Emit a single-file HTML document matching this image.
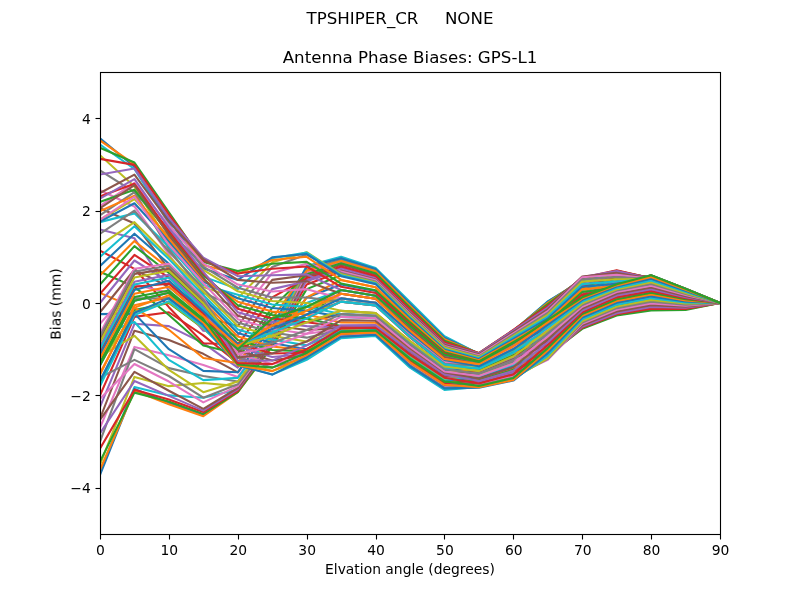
<!DOCTYPE html>
<html><head><meta charset="utf-8"><title>Antenna Phase Biases</title>
<style>html,body{margin:0;padding:0;background:#fff}svg{display:block}svg text{will-change:opacity}text{font-family:"DejaVu Sans","Liberation Sans",sans-serif;fill:#000}</style></head>
<body>
<svg width="800" height="600" viewBox="0 0 800 600">
<rect width="800" height="600" fill="#fff"/>
<defs><clipPath id="ax"><rect x="100" y="72" width="620" height="462"/></clipPath></defs>
<g clip-path="url(#ax)" fill="none" stroke-width="2.083" stroke-linejoin="round" stroke-linecap="square">
<polyline stroke="#1f77b4" points="100.00,365.37 134.44,300.69 168.89,292.84 203.33,320.56 237.78,349.20 272.22,318.50 306.67,306.85 341.11,290.06 375.56,295.70 410.00,325.88 444.44,354.76 478.89,362.03 513.33,343.13 547.78,319.93 582.22,297.27 616.67,284.23 651.11,275.28 685.56,288.68 720.00,303.00"/>
<polyline stroke="#ff7f0e" points="100.00,374.61 134.44,305.31 168.89,297.46 203.33,324.25 237.78,353.82 272.22,322.00 306.67,306.85 341.11,293.76 375.56,298.79 410.00,329.93 444.44,358.40 478.89,361.56 513.33,342.45 547.78,318.93 582.22,296.48 616.67,283.61 651.11,275.39 685.56,288.74 720.00,303.00"/>
<polyline stroke="#2ca02c" points="100.00,383.85 134.44,309.93 168.89,303.00 203.33,328.41 237.78,358.44 272.22,312.24 306.67,310.70 341.11,298.38 375.56,302.66 410.00,333.03 444.44,360.74 478.89,361.09 513.33,341.76 547.78,317.93 582.22,295.69 616.67,282.99 651.11,275.49 685.56,288.81 720.00,303.00"/>
<polyline stroke="#d62728" points="100.00,395.40 134.44,316.86 168.89,312.24 203.33,335.34 237.78,363.06 272.22,318.50 306.67,318.40 341.11,301.61 375.56,305.36 410.00,337.55 444.44,365.03 478.89,360.62 513.33,341.08 547.78,316.94 582.22,294.90 616.67,282.37 651.11,275.60 685.56,288.87 720.00,303.00"/>
<polyline stroke="#9467bd" points="100.00,406.95 134.44,323.79 168.89,326.10 203.33,343.19 237.78,367.68 272.22,321.48 306.67,322.25 341.11,310.85 375.56,313.09 410.00,341.36 444.44,367.00 478.89,360.15 513.33,340.39 547.78,315.94 582.22,294.11 616.67,281.74 651.11,275.70 685.56,288.93 720.00,303.00"/>
<polyline stroke="#8c564b" points="100.00,418.50 134.44,330.72 168.89,339.96 203.33,353.82 237.78,372.30 272.22,325.51 306.67,322.25 341.11,314.09 375.56,315.79 410.00,344.67 444.44,369.93 478.89,359.68 513.33,339.71 547.78,314.94 582.22,293.32 616.67,281.12 651.11,275.81 685.56,289.00 720.00,303.00"/>
<polyline stroke="#e377c2" points="100.00,427.74 134.44,346.89 168.89,355.21 203.33,364.91 237.78,376.92 272.22,330.72 306.67,318.40 341.11,293.76 375.56,298.79 410.00,329.32 444.44,357.72 478.89,359.22 513.33,339.03 547.78,313.94 582.22,292.53 616.67,280.50 651.11,275.91 685.56,289.06 720.00,303.00"/>
<polyline stroke="#7f7f7f" points="100.00,441.60 134.44,349.20 168.89,368.14 203.33,376.00 237.78,381.54 272.22,336.03 306.67,314.55 341.11,301.61 375.56,305.36 410.00,335.75 444.44,362.99 478.89,358.75 513.33,338.34 547.78,312.95 582.22,291.74 616.67,279.88 651.11,276.02 685.56,289.12 720.00,303.00"/>
<polyline stroke="#bcbd22" points="100.00,464.70 134.44,376.92 168.89,386.16 203.33,382.93 237.78,386.16 272.22,339.96 306.67,306.85 341.11,298.38 375.56,302.66 410.00,333.63 444.44,361.42 478.89,358.28 513.33,337.66 547.78,311.95 582.22,290.95 616.67,279.25 651.11,276.12 685.56,289.19 720.00,303.00"/>
<polyline stroke="#17becf" points="100.00,471.63 134.44,387.08 168.89,395.40 203.33,397.71 237.78,389.39 272.22,343.05 306.67,303.00 341.11,290.06 375.56,295.70 410.00,326.48 444.44,355.44 478.89,357.81 513.33,336.98 547.78,310.95 582.22,289.97 616.67,278.61 651.11,276.23 685.56,289.25 720.00,303.00"/>
<polyline stroke="#1f77b4" points="100.00,474.86 134.44,388.93 168.89,402.79 203.33,415.27 237.78,391.24 272.22,345.04 306.67,297.46 341.11,284.52 375.56,291.07 410.00,323.11 444.44,353.04 478.89,357.34 513.33,336.29 547.78,309.95 582.22,288.99 616.67,277.96 651.11,276.33 685.56,289.32 720.00,303.00"/>
<polyline stroke="#ff7f0e" points="100.00,469.78 134.44,390.78 168.89,404.18 203.33,416.19 237.78,392.17 272.22,346.55 306.67,297.46 341.11,279.90 375.56,287.20 410.00,320.61 444.44,351.37 478.89,356.88 513.33,335.61 547.78,308.86 582.22,288.02 616.67,277.31 651.11,276.47 685.56,289.40 720.00,303.00"/>
<polyline stroke="#2ca02c" points="100.00,461.47 134.44,392.63 168.89,401.41 203.33,413.88 237.78,392.17 272.22,345.97 306.67,289.14 341.11,275.28 375.56,283.34 410.00,316.90 444.44,348.35 478.89,356.41 513.33,334.92 547.78,307.77 582.22,287.04 616.67,276.67 651.11,276.61 685.56,289.49 720.00,303.00"/>
<polyline stroke="#d62728" points="100.00,448.53 134.44,389.86 168.89,399.56 203.33,412.03 237.78,390.78 272.22,343.05 306.67,284.52 341.11,271.58 375.56,280.25 410.00,313.46 444.44,345.39 478.89,356.06 513.33,334.41 547.78,306.68 582.22,286.06 616.67,276.02 651.11,276.75 685.56,289.57 720.00,303.00"/>
<polyline stroke="#9467bd" points="100.00,433.28 134.44,381.08 168.89,395.86 203.33,410.65 237.78,389.39 272.22,343.19 306.67,279.90 341.11,267.89 375.56,277.16 410.00,310.61 444.44,343.11 478.89,355.70 513.33,333.90 547.78,305.59 582.22,285.08 616.67,275.37 651.11,276.90 685.56,289.66 720.00,303.00"/>
<polyline stroke="#8c564b" points="100.00,419.89 134.44,371.84 168.89,390.78 203.33,408.80 237.78,388.01 272.22,343.05 306.67,276.20 341.11,264.65 375.56,274.46 410.00,308.50 444.44,341.54 478.89,355.35 513.33,333.39 547.78,304.50 582.22,284.10 616.67,274.73 651.11,277.04 685.56,289.74 720.00,303.00"/>
<polyline stroke="#e377c2" points="100.00,398.73 134.44,363.98 168.89,381.54 203.33,402.33 237.78,386.16 272.22,339.96 306.67,272.51 341.11,261.88 375.56,272.14 410.00,306.51 444.44,340.00 478.89,355.00 513.33,332.87 547.78,303.42 582.22,283.28 616.67,274.12 651.11,277.18 685.56,289.83 720.00,303.00"/>
<polyline stroke="#7f7f7f" points="100.00,377.57 134.44,359.83 168.89,376.00 203.33,397.71 237.78,384.31 272.22,339.54 306.67,269.74 341.11,259.57 375.56,270.21 410.00,304.66 444.44,338.48 478.89,354.65 513.33,332.36 547.78,302.33 582.22,282.45 616.67,273.52 651.11,277.32 685.56,289.91 720.00,303.00"/>
<polyline stroke="#bcbd22" points="100.00,356.41 134.44,335.80 168.89,369.99 203.33,392.17 237.78,381.54 272.22,335.34 306.67,267.43 341.11,257.72 375.56,268.66 410.00,302.94 444.44,337.00 478.89,354.30 513.33,331.85 547.78,301.86 582.22,281.62 616.67,272.91 651.11,277.46 685.56,290.00 720.00,303.00"/>
<polyline stroke="#17becf" points="100.00,335.25 134.44,321.94 168.89,359.83 203.33,380.15 237.78,377.84 272.22,332.53 306.67,266.04 341.11,256.80 375.56,267.89 410.00,302.08 444.44,336.26 478.89,353.95 513.33,331.33 547.78,301.39 582.22,280.79 616.67,272.31 651.11,277.60 685.56,290.08 720.00,303.00"/>
<polyline stroke="#1f77b4" points="100.00,314.09 134.44,313.63 168.89,349.20 203.33,370.91 237.78,372.30 272.22,326.10 306.67,266.96 341.11,258.19 375.56,269.05 410.00,303.67 444.44,337.71 478.89,353.60 513.33,330.82 547.78,301.74 582.22,279.97 616.67,271.71 651.11,277.74 685.56,290.17 720.00,303.00"/>
<polyline stroke="#ff7f0e" points="100.00,292.93 134.44,307.62 168.89,329.80 203.33,357.98 237.78,363.06 272.22,318.50 306.67,270.66 341.11,260.96 375.56,271.36 410.00,305.65 444.44,339.26 478.89,353.40 513.33,330.53 547.78,302.91 582.22,279.14 616.67,271.10 651.11,277.91 685.56,290.27 720.00,303.00"/>
<polyline stroke="#2ca02c" points="100.00,271.77 134.44,286.83 168.89,315.01 203.33,345.50 237.78,353.82 272.22,307.98 306.67,274.36 341.11,263.27 375.56,273.30 410.00,307.51 444.44,340.77 478.89,353.20 513.33,330.24 547.78,304.09 582.22,278.31 616.67,270.74 651.11,278.09 685.56,290.38 720.00,303.00"/>
<polyline stroke="#d62728" points="100.00,250.61 134.44,268.81 168.89,307.16 203.33,343.19 237.78,344.58 272.22,297.46 306.67,278.05 341.11,266.50 375.56,276.00 410.00,309.62 444.44,342.34 478.89,353.00 513.33,329.94 547.78,305.85 582.22,277.71 616.67,270.38 651.11,278.26 685.56,290.48 720.00,303.00"/>
<polyline stroke="#9467bd" points="100.00,229.45 134.44,238.32 168.89,290.53 203.33,330.72 237.78,335.34 272.22,289.14 306.67,281.29 341.11,269.74 375.56,278.70 410.00,311.73 444.44,343.91 478.89,353.39 513.33,330.51 547.78,307.61 582.22,277.11 616.67,271.10 651.11,278.44 685.56,290.59 720.00,303.00"/>
<polyline stroke="#8c564b" points="100.00,208.29 134.44,223.54 168.89,268.81 203.33,316.86 237.78,326.10 272.22,279.90 306.67,275.28 341.11,270.66 375.56,279.48 410.00,312.60 444.44,344.65 478.89,354.37 513.33,331.95 547.78,309.37 582.22,276.50 616.67,272.91 651.11,278.62 685.56,290.70 720.00,303.00"/>
<polyline stroke="#e377c2" points="100.00,190.27 134.44,206.44 168.89,254.48 203.33,303.00 237.78,316.86 272.22,272.97 306.67,263.73 341.11,271.58 375.56,280.25 410.00,314.06 444.44,346.07 478.89,355.35 513.33,333.39 547.78,311.13 582.22,277.26 616.67,274.73 651.11,278.79 685.56,290.80 720.00,303.00"/>
<polyline stroke="#7f7f7f" points="100.00,170.41 134.44,192.12 168.89,248.92 203.33,293.05 237.78,307.62 272.22,266.96 306.67,254.49 341.11,272.97 375.56,281.41 410.00,315.05 444.44,346.84 478.89,356.29 513.33,334.75 547.78,312.89 582.22,279.36 616.67,276.99 651.11,278.97 685.56,290.91 720.00,303.00"/>
<polyline stroke="#bcbd22" points="100.00,155.16 134.44,186.58 168.89,242.67 203.33,287.12 237.78,298.38 272.22,262.34 306.67,252.18 341.11,274.36 375.56,282.57 410.00,316.04 444.44,347.61 478.89,357.23 513.33,336.12 547.78,314.84 582.22,281.47 616.67,279.25 651.11,279.14 685.56,291.02 720.00,303.00"/>
<polyline stroke="#17becf" points="100.00,144.53 134.44,169.02 168.89,223.48 203.33,276.64 237.78,289.14 272.22,258.19 306.67,252.64 341.11,275.28 375.56,283.34 410.00,317.51 444.44,349.03 478.89,358.16 513.33,337.49 547.78,316.80 582.22,284.10 616.67,281.52 651.11,279.32 685.56,291.12 720.00,303.00"/>
<polyline stroke="#1f77b4" points="100.00,138.30 134.44,166.71 168.89,219.68 203.33,268.45 237.78,279.90 272.22,257.26 306.67,254.03 341.11,276.20 375.56,284.11 410.00,318.37 444.44,349.77 478.89,359.22 513.33,339.03 547.78,318.75 582.22,286.74 616.67,283.78 651.11,279.49 685.56,291.23 720.00,303.00"/>
<polyline stroke="#ff7f0e" points="100.00,140.38 134.44,164.40 168.89,215.97 203.33,264.99 237.78,273.89 272.22,260.03 306.67,256.80 341.11,279.90 375.56,287.20 410.00,320.01 444.44,350.69 478.89,360.27 513.33,340.57 547.78,320.71 582.22,289.37 616.67,286.04 651.11,279.96 685.56,291.51 720.00,303.00"/>
<polyline stroke="#2ca02c" points="100.00,147.77 134.44,162.55 168.89,212.45 203.33,261.99 237.78,271.12 272.22,263.73 306.67,261.88 341.11,283.60 375.56,290.29 410.00,322.25 444.44,352.30 478.89,361.32 513.33,342.10 547.78,322.67 582.22,292.00 616.67,287.93 651.11,280.43 685.56,291.79 720.00,303.00"/>
<polyline stroke="#d62728" points="100.00,158.86 134.44,164.86 168.89,214.26 203.33,260.54 237.78,273.43 272.22,268.81 306.67,266.50 341.11,286.83 375.56,293.00 410.00,324.37 444.44,353.87 478.89,362.38 513.33,343.64 547.78,324.62 582.22,294.64 616.67,289.82 651.11,280.90 685.56,292.08 720.00,303.00"/>
<polyline stroke="#9467bd" points="100.00,174.56 134.44,168.56 168.89,217.87 203.33,257.72 237.78,276.20 272.22,275.28 306.67,274.36 341.11,290.06 375.56,295.70 410.00,327.08 444.44,356.12 478.89,363.43 513.33,345.18 547.78,326.38 582.22,297.27 616.67,291.70 651.11,281.37 685.56,292.36 720.00,303.00"/>
<polyline stroke="#8c564b" points="100.00,193.04 134.44,174.56 168.89,221.58 203.33,259.18 237.78,279.90 272.22,282.67 306.67,281.29 341.11,293.76 375.56,298.79 410.00,328.72 444.44,357.04 478.89,364.31 513.33,346.46 547.78,328.14 582.22,299.90 616.67,293.59 651.11,281.83 685.56,292.65 720.00,303.00"/>
<polyline stroke="#e377c2" points="100.00,205.98 134.44,182.88 168.89,225.47 203.33,263.44 237.78,284.52 272.22,291.45 306.67,289.14 341.11,298.38 375.56,302.66 410.00,334.24 444.44,362.10 478.89,365.19 513.33,347.74 547.78,329.90 582.22,302.54 616.67,295.48 651.11,282.30 685.56,292.93 720.00,303.00"/>
<polyline stroke="#7f7f7f" points="100.00,215.22 134.44,192.12 168.89,229.46 203.33,266.63 237.78,287.75 272.22,297.46 306.67,297.46 341.11,301.61 375.56,305.36 410.00,336.35 444.44,363.67 478.89,366.06 513.33,349.03 547.78,331.66 582.22,305.17 616.67,297.36 651.11,284.06 685.56,293.99 720.00,303.00"/>
<polyline stroke="#bcbd22" points="100.00,219.84 134.44,199.05 168.89,236.87 203.33,269.90 237.78,291.24 272.22,300.96 306.67,303.00 341.11,310.85 375.56,313.09 410.00,341.96 444.44,367.68 478.89,366.94 513.33,350.31 547.78,333.42 582.22,307.59 616.67,299.10 651.11,285.81 685.56,295.05 720.00,303.00"/>
<polyline stroke="#17becf" points="100.00,222.15 134.44,213.37 168.89,246.84 203.33,284.91 237.78,294.73 272.22,304.47 306.67,306.85 341.11,314.09 375.56,315.79 410.00,343.47 444.44,368.57 478.89,367.82 513.33,351.59 547.78,335.18 582.22,310.02 616.67,300.83 651.11,287.57 685.56,296.12 720.00,303.00"/>
<polyline stroke="#1f77b4" points="100.00,221.69 134.44,203.21 168.89,241.04 203.33,281.47 237.78,298.21 272.22,307.98 306.67,310.70 341.11,316.86 375.56,318.11 410.00,346.05 444.44,370.79 478.89,368.70 513.33,352.87 547.78,336.85 582.22,312.44 616.67,302.57 651.11,289.32 685.56,297.18 720.00,303.00"/>
<polyline stroke="#ff7f0e" points="100.00,211.06 134.44,195.82 168.89,238.68 203.33,279.53 237.78,301.70 272.22,311.48 306.67,314.55 341.11,322.40 375.56,322.74 410.00,349.42 444.44,373.19 478.89,369.57 513.33,354.15 547.78,338.51 582.22,314.86 616.67,304.31 651.11,291.52 685.56,298.51 720.00,303.00"/>
<polyline stroke="#2ca02c" points="100.00,201.82 134.44,189.81 168.89,233.26 203.33,275.01 237.78,305.18 272.22,314.99 306.67,318.40 341.11,326.10 375.56,325.83 410.00,351.66 444.44,374.79 478.89,370.45 513.33,355.44 547.78,340.17 582.22,317.29 616.67,306.04 651.11,293.71 685.56,299.84 720.00,303.00"/>
<polyline stroke="#d62728" points="100.00,196.28 134.44,183.80 168.89,231.27 203.33,273.36 237.78,308.67 272.22,318.50 306.67,322.25 341.11,326.81 375.56,326.42 410.00,352.46 444.44,375.52 478.89,371.33 513.33,356.72 547.78,341.83 582.22,318.87 616.67,307.78 651.11,295.91 685.56,301.16 720.00,303.00"/>
<polyline stroke="#9467bd" points="100.00,198.59 134.44,179.18 168.89,227.83 203.33,271.85 237.78,312.16 272.22,322.00 306.67,326.10 341.11,327.51 375.56,327.02 410.00,353.26 444.44,376.25 478.89,372.21 513.33,358.00 547.78,343.50 582.22,320.45 616.67,308.76 651.11,298.10 685.56,302.49 720.00,303.00"/>
<polyline stroke="#8c564b" points="100.00,208.29 134.44,185.19 168.89,235.25 203.33,278.02 237.78,315.64 272.22,325.51 306.67,329.95 341.11,328.22 375.56,327.61 410.00,354.06 444.44,376.97 478.89,373.09 513.33,359.28 547.78,345.16 582.22,322.03 616.67,309.74 651.11,300.12 685.56,303.71 720.00,303.00"/>
<polyline stroke="#e377c2" points="100.00,219.84 134.44,196.74 168.89,244.75 203.33,283.19 237.78,319.13 272.22,329.02 306.67,333.80 341.11,328.93 375.56,328.20 410.00,355.47 444.44,378.38 478.89,373.96 513.33,360.57 547.78,346.62 582.22,323.61 616.67,310.72 651.11,302.14 685.56,304.94 720.00,303.00"/>
<polyline stroke="#7f7f7f" points="100.00,233.70 134.44,210.60 168.89,251.47 203.33,288.72 237.78,322.61 272.22,332.53 306.67,337.65 341.11,329.63 375.56,328.79 410.00,356.27 444.44,379.10 478.89,375.02 513.33,362.10 547.78,348.09 582.22,325.19 616.67,311.70 651.11,304.16 685.56,306.16 720.00,303.00"/>
<polyline stroke="#bcbd22" points="100.00,245.25 134.44,222.15 168.89,256.56 203.33,291.53 237.78,326.10 272.22,336.03 306.67,341.50 341.11,330.34 375.56,329.38 410.00,357.07 444.44,379.83 478.89,376.07 513.33,363.64 547.78,349.56 582.22,325.92 616.67,312.68 651.11,306.18 685.56,307.38 720.00,303.00"/>
<polyline stroke="#17becf" points="100.00,256.80 134.44,226.31 168.89,259.11 203.33,294.97 237.78,329.59 272.22,339.54 306.67,345.35 341.11,331.05 375.56,329.97 410.00,357.87 444.44,380.56 478.89,377.12 513.33,365.18 547.78,351.02 582.22,326.66 616.67,313.66 651.11,307.23 685.56,308.02 720.00,303.00"/>
<polyline stroke="#1f77b4" points="100.00,266.04 134.44,233.70 168.89,263.73 203.33,297.90 237.78,333.07 272.22,343.05 306.67,349.20 341.11,331.75 375.56,330.56 410.00,359.27 444.44,381.96 478.89,378.18 513.33,366.72 547.78,352.49 582.22,327.40 616.67,314.27 651.11,308.29 685.56,308.65 720.00,303.00"/>
<polyline stroke="#ff7f0e" points="100.00,275.28 134.44,241.09 168.89,268.35 203.33,301.52 237.78,336.56 272.22,346.55 306.67,350.38 341.11,332.46 375.56,331.15 410.00,360.07 444.44,382.69 478.89,379.23 513.33,368.26 547.78,353.96 582.22,328.13 616.67,314.87 651.11,309.34 685.56,309.29 720.00,303.00"/>
<polyline stroke="#2ca02c" points="100.00,284.52 134.44,246.17 168.89,272.97 203.33,305.14 237.78,340.04 272.22,350.06 306.67,351.56 341.11,333.17 375.56,331.74 410.00,360.87 444.44,383.41 478.89,380.28 513.33,369.80 547.78,355.13 582.22,328.87 616.67,315.47 651.11,310.39 685.56,309.93 720.00,303.00"/>
<polyline stroke="#d62728" points="100.00,293.76 134.44,254.95 168.89,277.59 203.33,308.76 237.78,343.53 272.22,353.57 306.67,352.74 341.11,333.87 375.56,332.33 410.00,361.67 444.44,384.14 478.89,381.34 513.33,371.33 547.78,356.31 582.22,327.82 616.67,314.34 651.11,308.64 685.56,308.87 720.00,303.00"/>
<polyline stroke="#9467bd" points="100.00,303.00 134.44,260.50 168.89,282.21 203.33,312.38 237.78,347.02 272.22,357.07 306.67,353.92 341.11,334.58 375.56,332.92 410.00,363.08 444.44,385.55 478.89,382.39 513.33,372.87 547.78,357.48 582.22,326.77 616.67,313.21 651.11,306.88 685.56,307.80 720.00,303.00"/>
<polyline stroke="#8c564b" points="100.00,312.24 134.44,269.74 168.89,286.83 203.33,316.00 237.78,350.50 272.22,360.58 306.67,355.10 341.11,335.29 375.56,333.51 410.00,363.88 444.44,386.27 478.89,383.44 513.33,374.41 547.78,358.65 582.22,325.32 616.67,311.51 651.11,305.13 685.56,306.74 720.00,303.00"/>
<polyline stroke="#e377c2" points="100.00,323.79 134.44,284.52 168.89,292.84 203.33,320.71 237.78,353.99 272.22,364.09 306.67,356.28 341.11,335.99 375.56,334.11 410.00,364.68 444.44,387.00 478.89,384.50 513.33,375.95 547.78,359.83 582.22,323.87 616.67,309.81 651.11,303.37 685.56,305.68 720.00,303.00"/>
<polyline stroke="#7f7f7f" points="100.00,339.96 134.44,298.38 168.89,298.38 203.33,325.05 237.78,357.47 272.22,367.60 306.67,357.46 341.11,336.70 375.56,334.70 410.00,365.48 444.44,387.72 478.89,385.55 513.33,377.49 547.78,358.95 582.22,322.42 616.67,308.12 651.11,301.61 685.56,304.62 720.00,303.00"/>
<polyline stroke="#bcbd22" points="100.00,363.06 134.44,312.24 168.89,302.08 203.33,327.95 237.78,360.96 272.22,371.10 306.67,358.65 341.11,337.41 375.56,335.29 410.00,366.88 444.44,389.13 478.89,386.25 513.33,378.51 547.78,358.07 582.22,320.97 616.67,306.42 651.11,299.86 685.56,303.55 720.00,303.00"/>
<polyline stroke="#17becf" points="100.00,386.16 134.44,315.01 168.89,301.15 203.33,327.22 237.78,364.45 272.22,374.61 306.67,359.83 341.11,338.11 375.56,335.88 410.00,367.68 444.44,389.86 478.89,386.95 513.33,379.54 547.78,355.57 582.22,319.26 616.67,304.61 651.11,298.10 685.56,302.49 720.00,303.00"/>
<polyline stroke="#1f77b4" points="100.00,380.62 134.44,312.70 168.89,298.38 203.33,325.05 237.78,365.37 272.22,374.61 306.67,357.46 341.11,336.73 375.56,334.72 410.00,366.09 444.44,388.41 478.89,387.66 513.33,380.57 547.78,353.08 582.22,317.55 616.67,302.80 651.11,296.35 685.56,301.43 720.00,303.00"/>
<polyline stroke="#ff7f0e" points="100.00,373.22 134.44,307.62 168.89,295.15 203.33,322.52 237.78,365.37 272.22,371.10 306.67,355.10 341.11,333.95 375.56,332.40 410.00,362.30 444.44,384.83 478.89,387.31 513.33,380.05 547.78,350.58 582.22,315.84 616.67,300.99 651.11,294.59 685.56,300.37 720.00,303.00"/>
<polyline stroke="#2ca02c" points="100.00,362.14 134.44,296.99 168.89,290.53 203.33,318.90 237.78,364.45 272.22,367.60 306.67,352.74 341.11,331.64 375.56,330.47 410.00,358.64 444.44,381.28 478.89,385.90 513.33,378.00 547.78,348.09 582.22,314.12 616.67,299.17 651.11,292.84 685.56,299.30 720.00,303.00"/>
<polyline stroke="#d62728" points="100.00,351.51 134.44,286.83 168.89,283.60 203.33,313.47 237.78,363.06 272.22,364.09 306.67,349.20 341.11,328.41 375.56,327.77 410.00,354.72 444.44,377.66 478.89,383.44 513.33,374.41 547.78,345.16 582.22,312.28 616.67,297.36 651.11,291.08 685.56,298.24 720.00,303.00"/>
<polyline stroke="#9467bd" points="100.00,346.43 134.44,281.75 168.89,274.82 203.33,306.59 237.78,360.75 272.22,360.58 306.67,345.35 341.11,325.18 375.56,325.06 410.00,350.80 444.44,374.05 478.89,380.99 513.33,370.82 547.78,342.22 582.22,310.44 616.67,295.55 651.11,289.32 685.56,297.18 720.00,303.00"/>
<polyline stroke="#8c564b" points="100.00,338.57 134.44,273.89 168.89,268.81 203.33,301.89 237.78,357.52 272.22,353.57 306.67,341.50 341.11,320.09 375.56,320.81 410.00,348.17 444.44,372.36 478.89,378.53 513.33,367.23 547.78,339.29 582.22,308.59 616.67,293.74 651.11,287.57 685.56,296.12 720.00,303.00"/>
<polyline stroke="#e377c2" points="100.00,333.49 134.44,268.81 168.89,263.73 203.33,297.90 237.78,353.82 272.22,346.55 306.67,333.80 341.11,316.86 375.56,318.11 410.00,346.66 444.44,371.47 478.89,376.07 513.33,363.64 547.78,336.36 582.22,306.75 616.67,291.93 651.11,285.81 685.56,295.05 720.00,303.00"/>
<polyline stroke="#7f7f7f" points="100.00,336.26 134.44,271.58 168.89,266.04 203.33,299.71 237.78,349.20 272.22,343.05 306.67,329.95 341.11,314.09 375.56,315.79 410.00,344.07 444.44,369.25 478.89,373.61 513.33,360.05 547.78,333.42 582.22,305.04 616.67,290.57 651.11,284.06 685.56,293.99 720.00,303.00"/>
<polyline stroke="#bcbd22" points="100.00,342.27 134.44,277.59 168.89,270.66 203.33,303.33 237.78,345.97 272.22,336.03 306.67,322.25 341.11,310.85 375.56,313.09 410.00,340.75 444.44,366.32 478.89,371.15 513.33,356.46 547.78,330.49 582.22,303.33 616.67,289.21 651.11,282.30 685.56,292.93 720.00,303.00"/>
<polyline stroke="#17becf" points="100.00,349.20 134.44,284.52 168.89,277.59 203.33,308.76 237.78,344.58 272.22,332.53 306.67,318.40 341.11,301.61 375.56,305.36 410.00,336.95 444.44,364.35 478.89,368.70 513.33,352.87 547.78,327.56 582.22,301.62 616.67,287.86 651.11,280.55 685.56,291.87 720.00,303.00"/>
<polyline stroke="#1f77b4" points="100.00,354.74 134.44,290.06 168.89,280.82 203.33,311.30 237.78,344.58 272.22,329.02 306.67,314.55 341.11,298.38 375.56,302.66 410.00,332.43 444.44,360.06 478.89,366.24 513.33,349.28 547.78,324.62 582.22,299.90 616.67,286.50 651.11,278.79 685.56,290.80 720.00,303.00"/>
<polyline stroke="#ff7f0e" points="100.00,358.44 134.44,293.76 168.89,286.83 203.33,316.00 237.78,345.97 272.22,325.51 306.67,310.70 341.11,293.76 375.56,298.79 410.00,330.53 444.44,359.08 478.89,364.13 513.33,346.21 547.78,322.27 582.22,298.59 616.67,285.37 651.11,277.04 685.56,289.74 720.00,303.00"/>
<polyline stroke="#2ca02c" points="100.00,365.37 134.44,300.69 168.89,292.84 203.33,320.56 237.78,349.20 272.22,318.50 306.67,306.85 341.11,290.06 375.56,295.70 410.00,325.88 444.44,354.76 478.89,362.03 513.33,343.13 547.78,319.93 582.22,297.27 616.67,284.23 651.11,275.28 685.56,288.68 720.00,303.00"/>
</g>
<rect x="100.5" y="72.5" width="620" height="462" fill="none" stroke="#000" stroke-width="1.111" stroke-linejoin="miter"/>
<g stroke="#000" stroke-width="1.111">
<line x1="100.5" y1="534.5" x2="100.5" y2="539.5"/><line x1="169.5" y1="534.5" x2="169.5" y2="539.5"/><line x1="238.5" y1="534.5" x2="238.5" y2="539.5"/><line x1="307.5" y1="534.5" x2="307.5" y2="539.5"/><line x1="376.5" y1="534.5" x2="376.5" y2="539.5"/><line x1="444.5" y1="534.5" x2="444.5" y2="539.5"/><line x1="513.5" y1="534.5" x2="513.5" y2="539.5"/><line x1="582.5" y1="534.5" x2="582.5" y2="539.5"/><line x1="651.5" y1="534.5" x2="651.5" y2="539.5"/><line x1="720.5" y1="534.5" x2="720.5" y2="539.5"/><line x1="95.5" y1="488.5" x2="100.5" y2="488.5"/><line x1="95.5" y1="395.5" x2="100.5" y2="395.5"/><line x1="95.5" y1="303.5" x2="100.5" y2="303.5"/><line x1="95.5" y1="211.5" x2="100.5" y2="211.5"/><line x1="95.5" y1="118.5" x2="100.5" y2="118.5"/>
</g>
<g font-size="13.89px">
<text x="100.50" y="555.3" text-anchor="middle">0</text><text x="169.39" y="555.3" text-anchor="middle">10</text><text x="238.28" y="555.3" text-anchor="middle">20</text><text x="307.17" y="555.3" text-anchor="middle">30</text><text x="376.06" y="555.3" text-anchor="middle">40</text><text x="444.94" y="555.3" text-anchor="middle">50</text><text x="513.83" y="555.3" text-anchor="middle">60</text><text x="582.72" y="555.3" text-anchor="middle">70</text><text x="651.61" y="555.3" text-anchor="middle">80</text><text x="720.50" y="555.3" text-anchor="middle">90</text><text x="90.8" y="493.30" text-anchor="end">−4</text><text x="90.8" y="400.90" text-anchor="end">−2</text><text x="90.8" y="308.50" text-anchor="end">0</text><text x="90.8" y="216.10" text-anchor="end">2</text><text x="90.8" y="123.70" text-anchor="end">4</text>
<text x="410" y="573.5" text-anchor="middle">Elvation angle (degrees)</text>
<text transform="translate(60.6 304) rotate(-90)" text-anchor="middle">Bias (mm)</text>
</g>
<text x="410" y="63" font-size="16.67px" text-anchor="middle">Antenna Phase Biases: GPS-L1</text>
<text x="400" y="24" font-size="16.67px" text-anchor="middle" xml:space="preserve" style="white-space:pre">TPSHIPER_CR     NONE</text>
</svg>
</body></html>
